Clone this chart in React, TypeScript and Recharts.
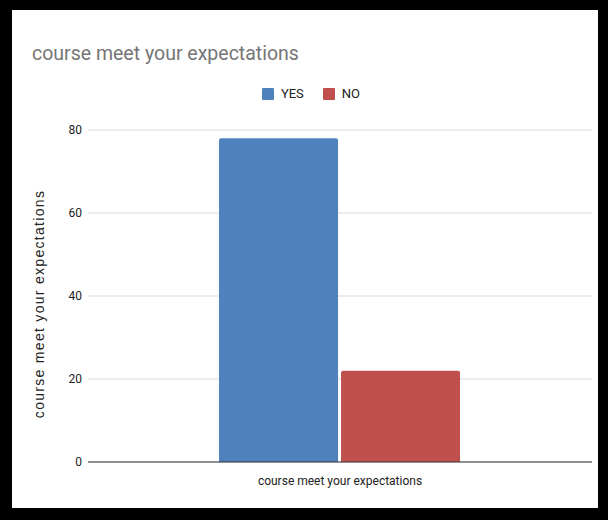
import { BarChart, Bar, XAxis, YAxis, CartesianGrid, Legend } from "recharts";

const categories = ["course meet your expectations"];
const yesValues = [78];
const noValues = [22];
const yTicks = [0, 20, 40, 60, 80];
const seriesNames = ["YES", "NO"];
const seriesColors = ["#4f81bd", "#c0504d"];

const chartData = categories.map((name, i) => ({
  name,
  YES: yesValues[i],
  NO: noValues[i],
}));

const tickFont = "Roboto, sans-serif";

function LegendBox() {
  return (
    <div style={{ display: "flex", justifyContent: "center", gap: 19, paddingLeft: 14 }}>
      {seriesNames.map((s, i) => (
        <div key={s} style={{ display: "flex", alignItems: "center" }}>
          <span
            style={{
              width: 12,
              height: 12,
              background: seriesColors[i],
              borderRadius: 1,
              marginRight: 7,
              display: "inline-block",
            }}
          />
          <span style={{ fontFamily: tickFont, fontSize: 13, color: "#222" }}>{s}</span>
        </div>
      ))}
    </div>
  );
}

export default function App() {
  return (
    <div
      style={{
        position: "absolute",
        left: 0,
        top: 0,
        width: 608,
        height: 520,
        background: "#000",
      }}
    >
      <div
        style={{
          position: "absolute",
          left: 12,
          top: 10,
          width: 586,
          height: 498,
          background: "#fff",
        }}
      />
      <div
        style={{
          position: "absolute",
          left: 32,
          top: 42,
          fontFamily: "Roboto, sans-serif",
          fontSize: 19.5,
          color: "#757575",
          whiteSpace: "nowrap",
        }}
      >
        course meet your expectations
      </div>
      <div style={{ position: "absolute", left: 0, top: 0 }}>
        <BarChart
          width={608}
          height={520}
          data={chartData}
          margin={{ top: 130, right: 16, bottom: 28, left: 0 }}
          barCategoryGap="26%"
          barGap={3}
        >
          <CartesianGrid vertical={false} stroke="#d9d9d9" />
          <XAxis
            dataKey="name"
            height={30}
            tickLine={false}
            axisLine={{ stroke: "#333" }}
            tick={{ fill: "#222", fontSize: 12, fontFamily: tickFont }}
            tickMargin={8}
          />
          <YAxis
            width={88}
            domain={[0, 80]}
            ticks={yTicks}
            axisLine={false}
            tickLine={false}
            tickSize={0}
            tickMargin={6}
            tick={{ fill: "#222", fontSize: 12, fontFamily: tickFont }}
            label={{
              value: "course meet your expectations",
              angle: -90,
              position: "insideLeft",
              dx: 34,
              dy: 8,
              style: {
                textAnchor: "middle",
                fill: "#222",
                fontSize: 14,
                letterSpacing: 1.3,
                fontFamily: "'Liberation Sans', Arial, sans-serif",
              },
            }}
          />
          <Legend
            verticalAlign="middle"
            align="center"
            layout="horizontal"
            wrapperStyle={{ top: 86, left: 0, width: 608 }}
            content={() => <LegendBox />}
          />
          <Bar dataKey="YES" fill={seriesColors[0]} radius={[2, 2, 0, 0]} isAnimationActive={false} />
          <Bar dataKey="NO" fill={seriesColors[1]} radius={[2, 2, 0, 0]} isAnimationActive={false} />
        </BarChart>
      </div>
    </div>
  );
}
